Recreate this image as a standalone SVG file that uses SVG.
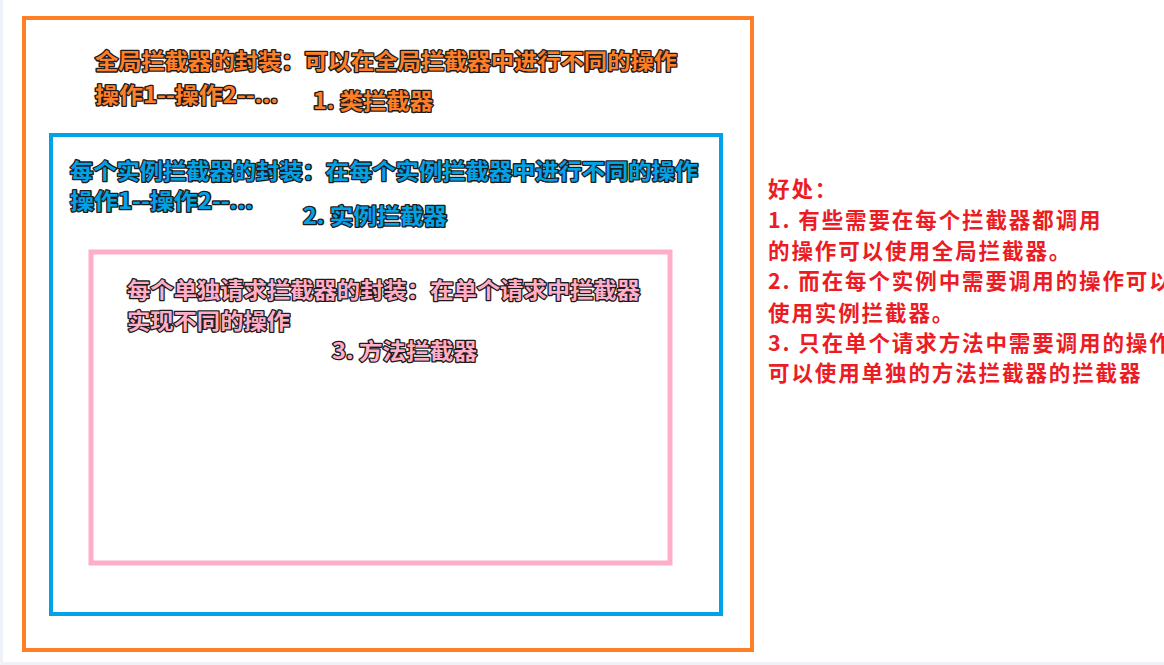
<svg xmlns="http://www.w3.org/2000/svg" width="1164" height="665" viewBox="0 0 1164 665">
<style>
.t{font-family:"Noto Sans CJK SC","Microsoft YaHei",sans-serif;font-weight:bold;font-size:22px;stroke:#1c1c1c;stroke-width:2.6px;paint-order:stroke;stroke-linejoin:round}
.o{fill:#ff7f27}
.b{fill:#00a2e8}
.p{fill:#ffaec9}
.r{font-family:"Noto Sans CJK SC","Microsoft YaHei",sans-serif;font-weight:bold;font-size:21.5px;fill:#ec1c24;letter-spacing:1.9px}
</style>
<rect x="0" y="0" width="1164" height="665" fill="#ffffff"/>
<rect x="0" y="0" width="3" height="665" fill="#eef2f8"/>
<rect x="0" y="662" width="1164" height="3" fill="#eef2f8"/>
<g id="class-interceptor">
<rect x="24" y="18" width="728" height="632" fill="none" stroke="#ff7f27" stroke-width="4"/>
<text class="t o" x="95" y="69" textLength="582" lengthAdjust="spacingAndGlyphs">全局拦截器的封装：可以在全局拦截器中进行不同的操作</text>
<text class="t o" x="95" y="103" textLength="183" lengthAdjust="spacingAndGlyphs">操作1--操作2--...</text>
<text class="t o" x="313" y="109" textLength="120" lengthAdjust="spacingAndGlyphs">1. 类拦截器</text>
</g>
<g id="instance-interceptor">
<rect x="51" y="135" width="670" height="479" fill="none" stroke="#00a2e8" stroke-width="4"/>
<text class="t b" x="70" y="179" textLength="628" lengthAdjust="spacingAndGlyphs">每个实例拦截器的封装：在每个实例拦截器中进行不同的操作</text>
<text class="t b" x="70" y="209" textLength="183" lengthAdjust="spacingAndGlyphs">操作1--操作2--...</text>
<text class="t b" x="303" y="224" textLength="144" lengthAdjust="spacingAndGlyphs">2. 实例拦截器</text>
</g>
<g id="method-interceptor">
<rect x="91" y="252" width="579" height="311" fill="none" stroke="#ffaec9" stroke-width="5"/>
<text class="t p" x="127" y="298" textLength="513" lengthAdjust="spacingAndGlyphs">每个单独请求拦截器的封装：在单个请求中拦截器</text>
<text class="t p" x="127" y="329" textLength="163" lengthAdjust="spacingAndGlyphs">实现不同的操作</text>
<text class="t p" x="332" y="359" textLength="145" lengthAdjust="spacingAndGlyphs">3. 方法拦截器</text>
</g>
<g id="benefits">
<text class="r" x="768" y="197">好处：</text>
<text class="r" x="768" y="228">1. 有些需要在每个拦截器都调用</text>
<text class="r" x="768" y="259">的操作可以使用全局拦截器。</text>
<text class="r" x="768" y="289">2. 而在每个实例中需要调用的操作可以</text>
<text class="r" x="768" y="321">使用实例拦截器。</text>
<text class="r" x="768" y="351">3. 只在单个请求方法中需要调用的操作</text>
<text class="r" x="768" y="381">可以使用单独的方法拦截器的拦截器</text>
</g>
<g id="connectors"/>
</svg>
